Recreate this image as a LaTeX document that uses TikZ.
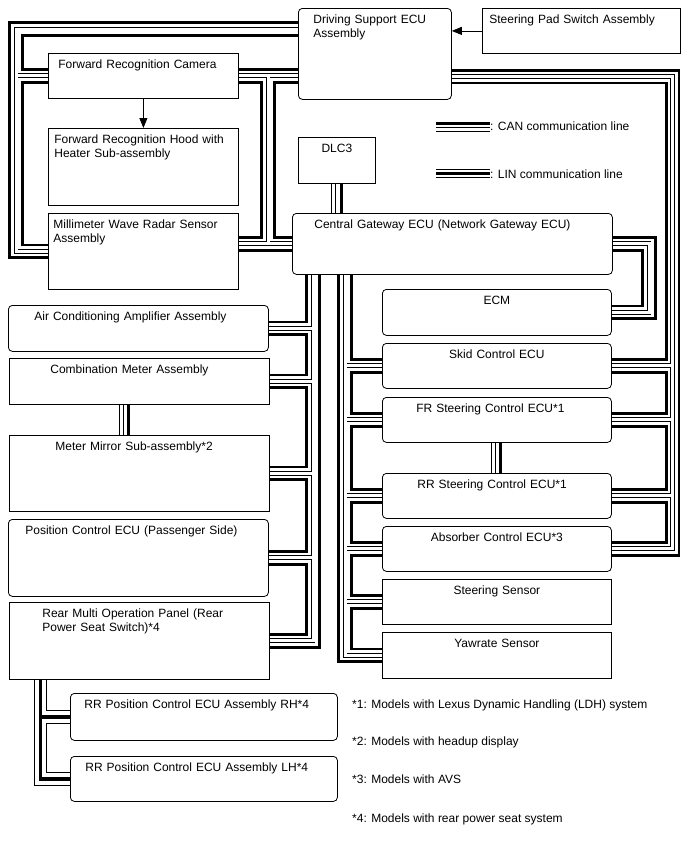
\documentclass[tikz,border=0pt]{standalone}
\usepackage{fontspec}
\setmainfont{Liberation Sans}
\usepackage{tikz}
\usetikzlibrary{arrows.meta, backgrounds}

\begin{document}
\begin{tikzpicture}[x=1pt, y=-1pt,
        ecu/.style={rectangle, draw, fill=white, line width=0.8pt, anchor=north west, align=left, inner ysep=0pt, text height=15pt, font=\fontsize{12}{14}\selectfont},
        recu/.style={ecu, rounded corners=4pt},
        ctr/.style={align=center, inner xsep=3pt, text width=223pt},
        note/.style={anchor=base west, inner sep=0pt, font=\fontsize{12}{14}\selectfont},
        canbus/.style={line width=15.2pt, postaction={draw, white, line width=10pt}, postaction={draw, black, line width=4.9pt}, postaction={draw, white, line width=3pt}},
        canwire/.style={line width=2.5pt},
        canpair/.style={double, line width=0.95pt, double distance=3pt},
        linbus/.style={line width=13.8pt, postaction={draw, white, line width=11.8pt}, postaction={draw, black, line width=3.2pt}},
        linkey/.style={line width=9.4pt, postaction={draw, white, line width=7.4pt}, postaction={draw, black, line width=3.2pt}},
        sig/.style={-{Triangle[length=10pt, width=8pt]}, line width=0.8pt}]

    \useasboundingbox (0,0) rectangle (688,852);

    % top row
    \node (ds) [recu, inner xsep=15pt, text width=123pt, text depth=76pt] at (298,8) {Driving Support ECU\\Assembly};
    \node (spad) [ecu, inner xsep=7pt, text width=184pt, text depth=30pt] at (482,8) {Steering Pad Switch Assembly};
    \node (cam) [ecu, inner xsep=10pt, text width=170pt, text depth=30pt] at (48,53) {Forward Recognition Camera};
    \node (hood) [ecu, inner xsep=6pt, text width=178pt, text depth=62pt] at (48,128) {Forward Recognition Hood with\\Heater Sub-assembly};
    \node (radar) [ecu, inner xsep=5pt, text width=180pt, text depth=61pt] at (48,213) {Millimeter Wave Radar Sensor\\Assembly};
    \node (dlc) [ecu, align=center, inner xsep=3pt, text width=71pt, text depth=31pt] at (298,137) {DLC3};
    \node (cgw) [recu, inner xsep=22pt, text width=276pt, text depth=46pt] at (292,213) {Central Gateway ECU (Network Gateway ECU)};

    % right column
    \node (ecm) [recu, ctr, text depth=31pt] at (382,289) {ECM};
    \node (skid) [recu, ctr, text depth=30pt] at (382,343) {Skid Control ECU};
    \node (frs) [recu, inner xsep=34pt, text width=161pt, text depth=30pt] at (382,397) {FR Steering Control ECU*1};
    \node (rrs) [recu, inner xsep=35pt, text width=159pt, text depth=30pt] at (382,473) {RR Steering Control ECU*1};
    \node (abs) [recu, ctr, text depth=30pt] at (382,526) {Absorber Control ECU*3};
    \node (ssen) [ecu, ctr, text depth=30pt] at (382,579) {Steering Sensor};
    \node (yaw) [ecu, ctr, text depth=31pt] at (382,632) {Yawrate Sensor};

    % left column
    \node (acamp) [recu, inner xsep=26pt, text width=208pt, text depth=31pt] at (8,305) {Air Conditioning Amplifier Assembly};
    \node (cmtr) [ecu, inner xsep=41pt, text width=178pt, text depth=31pt] at (9,358) {Combination Meter Assembly};
    \node (mirr) [ecu, inner xsep=46pt, text width=168pt, text depth=61pt] at (9,435) {Meter Mirror Sub-assembly*2};
    \node (pcu) [recu, inner xsep=17pt, text width=226pt, text depth=62pt] at (8,519) {Position Control ECU (Passenger Side)};
    \node (rmop) [ecu, inner xsep=33pt, text width=194pt, text depth=62pt] at (9,602) {Rear Multi Operation Panel (Rear\\Power Seat Switch)*4};
    \node (rrh) [recu, inner xsep=14pt, text width=239pt, text depth=32pt] at (70,693) {RR Position Control ECU Assembly RH*4};
    \node (rlh) [recu, inner xsep=15pt, text width=237pt, text depth=30pt] at (70,756) {RR Position Control ECU Assembly LH*4};

    % legend and notes
    \node (canlbl) [note] at (490,130) {: CAN communication line};
    \node (linlbl) [note] at (490,178) {: LIN communication line};
    \node (n1) [note] at (352,708) {*1: Models with Lexus Dynamic Handling (LDH) system};
    \node (n2) [note] at (352,745) {*2: Models with headup display};
    \node (n3) [note] at (352,783) {*3: Models with AVS};
    \node (n4) [note] at (352,822) {*4: Models with rear power seat system};

    \draw[sig] (spad.west) -- (spad.west -| ds.east);
    \draw[sig] (cam) -- (hood);

    \begin{pgfonlayer}{background}
        \coordinate (lo) at (16,0);
        \coordinate (cb) at (268,0);
        \coordinate (ro) at (672.5,0);
        \coordinate (eo) at (649,0);
        \coordinate (lb) at (313,0);
        \coordinate (rb) at (345,0);
        \coordinate (lin) at (40.5,0);

        % CAN trunks
        \draw[canbus] ([yshift=-21pt]ds.north west) -| (lo |- radar.west) -- (radar.west)
            (lo |- cam.west) -- (cam.west);
        \draw[canbus] (cam.east) -- (cam.east -| ds.west)
            (cb |- cam.east) -- (cb |- cgw.west)
            (cgw.west -| radar.east) -- (cgw.west);
        \draw[canbus] ([yshift=-68.5pt]ds.north east) -| (ro |- abs.east) -- (abs.east)
            (ro |- skid.east) -- (skid.east)
            (ro |- frs.east) -- (frs.east)
            (ro |- rrs.east) -- (rrs.east);
        \draw[canbus] (cgw.east) -| (eo |- ecm.east) -- (ecm.east);
        \draw[canbus] (lb |- cgw.south) -- (lb |- rmop.east) -- (rmop.east)
            (lb |- acamp.east) -- (acamp.east)
            (lb |- cmtr.east) -- (cmtr.east)
            (lb |- mirr.east) -- (mirr.east)
            (lb |- pcu.east) -- (pcu.east);
        \draw[canbus] (rb |- cgw.south) -- (rb |- yaw.west) -- (yaw.west)
            (rb |- skid.west) -- (skid.west)
            (rb |- frs.west) -- (frs.west)
            (rb |- rrs.west) -- (rrs.west)
            (rb |- abs.west) -- (abs.west)
            (rb |- ssen.west) -- (ssen.west);

        % single CAN links
        \draw[canpair] ([xshift=-3pt]dlc.south) -- ([xshift=-3pt]dlc.south |- cgw.north);
        \draw[canwire] ([xshift=4.5pt]dlc.south) -- ([xshift=4.5pt]dlc.south |- cgw.north);
        \draw[canpair] ([xshift=-17.5pt]cmtr.south) -- ([xshift=-17.5pt]cmtr.south |- mirr.north);
        \draw[canwire] ([xshift=-11pt]cmtr.south) -- ([xshift=-11pt]cmtr.south |- mirr.north);
        \draw[canpair] ([xshift=-3pt]frs.south) -- ([xshift=-3pt]frs.south |- rrs.north);
        \draw[canwire] ([xshift=3.5pt]frs.south) -- ([xshift=3.5pt]frs.south |- rrs.north);

        % LIN
        \draw[linbus] (lin |- rmop.south) -- (lin |- rlh.west) -- (rlh.west)
            (lin |- rrh.west) -- (rrh.west);

        % legend keys
        \coordinate (ck) at (436,123.5);
        \coordinate (ch) at (436,129.5);
        \coordinate (lk) at (436,173.5);
        \draw[canwire] (ck) -- (ck -| canlbl.west);
        \draw[canpair] (ch) -- (ch -| canlbl.west);
        \draw[linkey] (lk) -- (lk -| linlbl.west);
    \end{pgfonlayer}
\end{tikzpicture}
\end{document}
